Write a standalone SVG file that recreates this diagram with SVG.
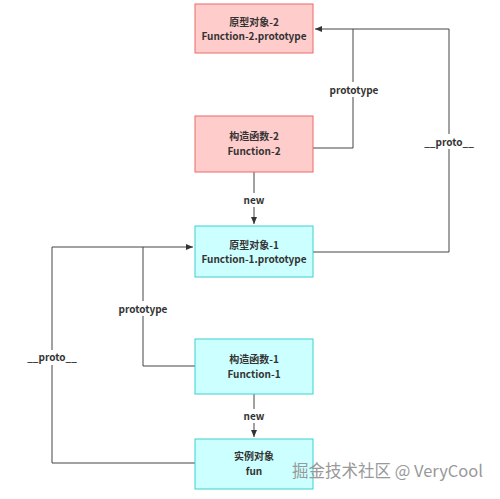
<svg xmlns="http://www.w3.org/2000/svg" width="500" height="499" viewBox="0 0 500 499">
<defs>
<marker id="arr" markerWidth="8" markerHeight="8" refX="7" refY="4" orient="auto" markerUnits="userSpaceOnUse">
<path d="M0,1 L7,4 L0,7 z" fill="#333"/>
</marker>
<style>
.pink rect{fill:#FFCCCC;stroke:#EA6B66;stroke-width:1}
.cyan rect{fill:#CCFFFF;stroke:#3FD0D0;stroke-width:1}
text{font-family:"Noto Sans CJK SC","Liberation Sans",sans-serif;font-weight:bold;font-size:10px;fill:#333;text-anchor:middle}
.ln{fill:none;stroke:#444;stroke-width:1}
.lbl{fill:#fff}
.wm{font-weight:normal;font-size:16.5px;fill:#999;text-anchor:start}
</style>
</defs>
<rect width="500" height="499" fill="#fff"/>
<g id="connectors">
<path class="ln" d="M313,148 H353 V29 H315" marker-end="url(#arr)"/>
<path class="ln" d="M313,252 H449 V29 H353"/>
<path class="ln" d="M254,172 V224" marker-end="url(#arr)"/>
<path class="ln" d="M195,366 H143 V247 H193" marker-end="url(#arr)"/>
<path class="ln" d="M195,463 H52 V247 H143"/>
<path class="ln" d="M254,394 V437" marker-end="url(#arr)"/>
<rect class="lbl" x="326" y="82" width="56" height="15"/>
<text x="354" y="94">prototype</text>
<rect class="lbl" x="424" y="134" width="50" height="15"/>
<text x="449" y="146">__proto__</text>
<rect class="lbl" x="242" y="193" width="24" height="14"/>
<text x="254" y="204">new</text>
<rect class="lbl" x="115" y="301" width="56" height="15"/>
<text x="143" y="313">prototype</text>
<rect class="lbl" x="27" y="350" width="50" height="15"/>
<text x="52" y="361">__proto__</text>
<rect class="lbl" x="242" y="409" width="24" height="14"/>
<text x="254" y="420">new</text>
</g>
<g id="proto2" class="pink">
<rect x="195" y="4" width="118" height="49"/>
<text x="254" y="26">原型对象-2</text>
<text x="254" y="40">Function-2.prototype</text>
</g>
<g id="ctor2" class="pink">
<rect x="195" y="116" width="118" height="56"/>
<text x="254" y="140">构造函数-2</text>
<text x="254" y="155">Function-2</text>
</g>
<g id="proto1" class="cyan">
<rect x="195" y="226" width="118" height="51"/>
<text x="254" y="249">原型对象-1</text>
<text x="254" y="263">Function-1.prototype</text>
</g>
<g id="ctor1" class="cyan">
<rect x="195" y="339" width="118" height="55"/>
<text x="254" y="363">构造函数-1</text>
<text x="254" y="378">Function-1</text>
</g>
<g id="fun" class="cyan">
<rect x="195" y="439" width="118" height="50"/>
<text x="254" y="460">实例对象</text>
<text x="254" y="475">fun</text>
</g>
<text class="wm" x="292" y="477">掘金技术社区 @ VeryCool</text>
</svg>
